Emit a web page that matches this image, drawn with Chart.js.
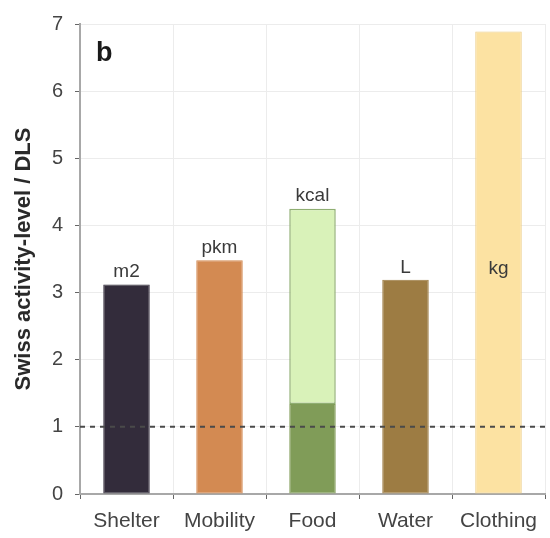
<!DOCTYPE html>
<html>
<head>
<meta charset="utf-8">
<script src="https://cdn.jsdelivr.net/npm/chart.js@4/dist/chart.umd.min.js"></script>
<style>
  html, body { margin: 0; padding: 0; background: #fff; }
  #wrap { width: 550px; height: 538px; }
</style>
</head>
<body>
<div id="wrap"><canvas id="c" width="550" height="538"></canvas></div>
<script>
// ---- data ----
const categories = ["Shelter", "Mobility", "Food", "Water", "Clothing"];
const baseValues = [3.12, 3.48, 1.34, 3.19, 6.89];      // main bar (Food: lower dark part)
const extraValues = [0, 0, 2.91, 0, 0];                  // Food upper light part (total 4.25)
const unitLabels = ["m2", "pkm", "kcal", "L", "kg"];
const unitInside = [false, false, false, false, true];
const insideLabelValue = 3.35;
const referenceLevel = 1;
const yTicks = [0, 1, 2, 3, 4, 5, 6, 7];
const panelLabel = "b";
const yTitle = "Swiss activity-level / DLS";

const baseColors = ["#332c3b", "#d38a52", "#809c58", "#9d7c43", "#fce2a2"];
const baseBorders = ["#332c3b", "#d38a52", "#809c58", "#9d7c43", "#eccd88"];

const overlayPlugin = {
  id: "overlay",
  afterDatasetsDraw(chart) {
    const ctx = chart.ctx;
    const y = chart.scales.y;
    const area = chart.chartArea;
    // dashed reference line
    const py = y.getPixelForValue(referenceLevel);
    ctx.save();
    ctx.strokeStyle = "#4a4a4a";
    ctx.lineWidth = 2;
    ctx.setLineDash([5, 5]);
    ctx.beginPath();
    ctx.moveTo(area.left, py);
    ctx.lineTo(area.right, py);
    ctx.stroke();
    ctx.restore();
    // unit labels
    const meta0 = chart.getDatasetMeta(0);
    ctx.save();
    ctx.font = "19px 'Liberation Sans', Arial, sans-serif";
    ctx.fillStyle = "#3a3a3a";
    ctx.textAlign = "center";
    meta0.data.forEach((bar, i) => {
      const total = baseValues[i] + extraValues[i];
      if (unitInside[i]) {
        ctx.textBaseline = "middle";
        ctx.fillText(unitLabels[i], bar.x, y.getPixelForValue(insideLabelValue));
      } else {
        ctx.textBaseline = "bottom";
        ctx.fillText(unitLabels[i], bar.x, y.getPixelForValue(total) - 3);
      }
    });
    ctx.restore();
    // panel label
    ctx.save();
    ctx.font = "bold 27px 'Liberation Sans', Arial, sans-serif";
    ctx.fillStyle = "#1a1a1a";
    ctx.textAlign = "left";
    ctx.textBaseline = "alphabetic";
    ctx.fillText(panelLabel, area.left + 16, area.top + 37);
    ctx.restore();
  }
};

new Chart(document.getElementById("c"), {
  type: "bar",
  data: {
    labels: categories,
    datasets: [
      {
        data: baseValues,
        backgroundColor: baseColors,
        borderColor: baseBorders,
        borderWidth: 1,
        borderSkipped: false,
        stack: "s"
      },
      {
        data: extraValues,
        backgroundColor: "#d9f2b9",
        borderColor: "#8fae72",
        borderWidth: 1.5,
        borderSkipped: false,
        stack: "s"
      }
    ]
  },
  options: {
    responsive: false,
    animation: false,
    devicePixelRatio: 1,
    layout: { padding: { left: 0, right: 5, top: 18, bottom: 0 } },
    plugins: { legend: { display: false }, tooltip: { enabled: false } },
    datasets: { bar: { barPercentage: 1, categoryPercentage: 0.5 } },
    scales: {
      x: {
        stacked: true,
        grid: { display: true, offset: true, color: "#ececec", lineWidth: 1, tickColor: "#666", tickLength: 5, drawOnChartArea: true },
        border: { display: true, color: "#a8a8a8", width: 2 },
        ticks: { color: "#444", font: { family: "'Liberation Sans', Arial, sans-serif", size: 21 }, padding: 10, maxRotation: 0, autoSkip: false },
        afterFit(scale) { scale.height = 44; }
      },
      y: {
        stacked: true,
        min: 0, max: 7,
        afterBuildTicks(scale) { scale.ticks = yTicks.map(v => ({ value: v })); },
        grid: { color: "#ececec", lineWidth: 1, tickColor: "#666", tickLength: 5 },
        border: { display: true, color: "#a8a8a8", width: 2 },
        ticks: { color: "#444", font: { family: "'Liberation Sans', Arial, sans-serif", size: 20 }, padding: 12 },
        title: { display: true, text: yTitle, color: "#2a2a2a", font: { family: "'Liberation Sans', Arial, sans-serif", size: 22, weight: "bold" }, padding: { top: 11, bottom: 0 } },
        afterFit(scale) { scale.width = 80; }
      }
    }
  },
  plugins: [overlayPlugin]
});
</script>
</body>
</html>
